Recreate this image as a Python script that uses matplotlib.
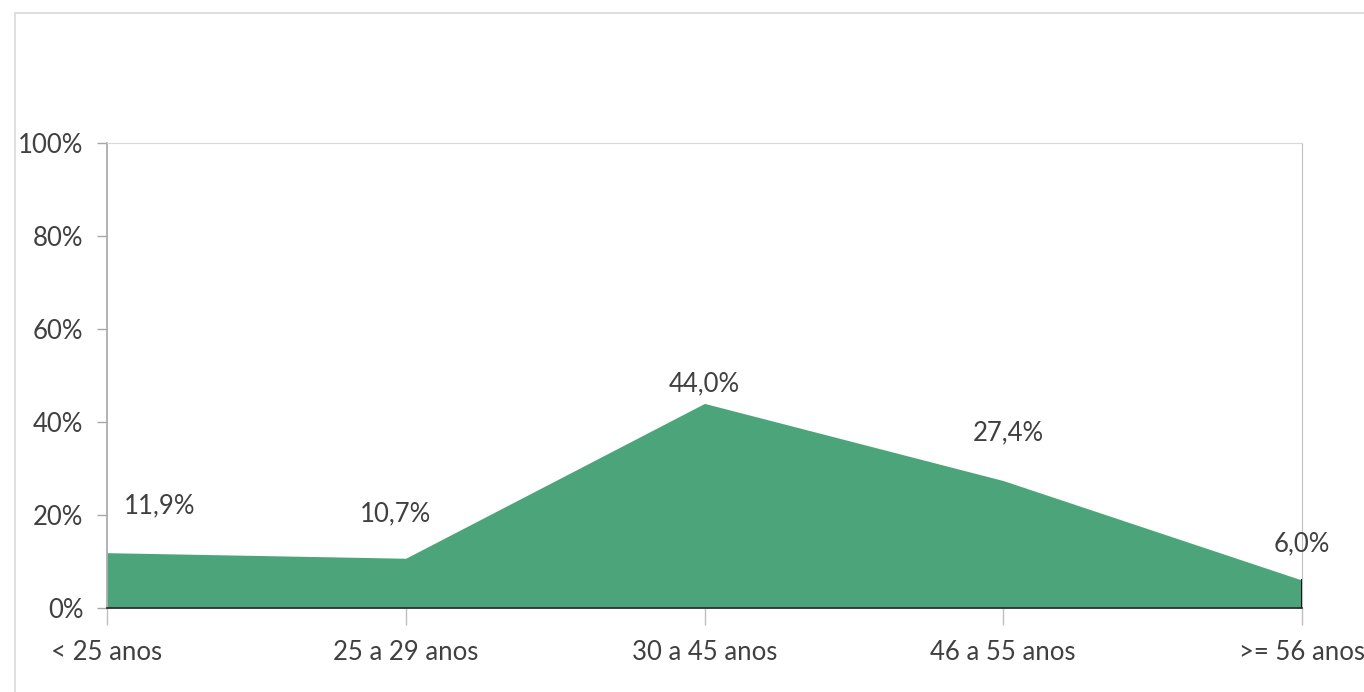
import matplotlib
matplotlib.use("Agg")
import matplotlib.pyplot as plt
from matplotlib.patches import Rectangle
from matplotlib.ticker import PercentFormatter

categories = ["< 25 anos", "25 a 29 anos", "30 a 45 anos", "46 a 55 anos", ">= 56 anos"]
values = [11.9, 10.7, 44.0, 27.4, 6.0]
value_labels = ["11,9%", "10,7%", "44,0%", "27,4%", "6,0%"]
yticks = [0, 20, 40, 60, 80, 100]

# label placement offsets in pixels (dx, dy) relative to each point
label_offsets = [(53, 47), (-10, 44), (0, 20), (5, 48), (0, 36)]

plt.rcParams['font.family'] = ['Lato', 'DejaVu Sans']
W, H = 1364, 692
fig = plt.figure(figsize=(W / 100, H / 100), dpi=100)
fig.patch.set_facecolor("white")

# outer chart frame
fig.add_artist(Rectangle((15 / W, -0.05), 1.1, (H - 13) / H + 0.05,
                         transform=fig.transFigure, fill=False,
                         edgecolor="#d9d9d9", linewidth=1.2))

left, right, top, bottom = 107, 1302, 143, 608
ax = fig.add_axes([left / W, (H - bottom) / H, (right - left) / W, (bottom - top) / H])

x = list(range(len(categories)))
ax.fill_between(x, values, 0, color="#4ca57a", linewidth=0, zorder=2)
ax.plot([x[-1], x[-1]], [0, values[-1]], color="#1a1a1a", linewidth=1.5, zorder=3)

ax.set_xlim(0, len(categories) - 1)
ax.set_ylim(0, 100)
ax.set_yticks(yticks)
ax.yaxis.set_major_formatter(PercentFormatter(decimals=0))
ax.set_xticks(x)
ax.set_xticklabels(categories)

txt = "#404040"
fs = 18.5
ax.tick_params(axis="y", direction="out", length=7, width=1, color="#a6a6a6",
               labelsize=fs, labelcolor=txt, pad=10)
ax.tick_params(axis="x", direction="out", length=12, width=1, color="#bfbfbf",
               labelsize=fs, labelcolor=txt, pad=11)
for lab in ax.get_xticklabels():
    lab.set_clip_on(False)

ax.spines["left"].set_color("#a6a6a6")
ax.spines["left"].set_linewidth(1.2)
ax.spines["top"].set_color("#d9d9d9")
ax.spines["right"].set_color("#bfbfbf")
ax.spines["bottom"].set_color("#262626")
ax.spines["bottom"].set_linewidth(1.2)
ax.spines["bottom"].set_zorder(4)

for xi, v, lab, (dx, dy) in zip(x, values, value_labels, label_offsets):
    ax.annotate(lab, (xi, v), xytext=(dx * 0.72, dy * 0.72), textcoords="offset points",
                ha="center", va="center", fontsize=fs, color=txt, zorder=5)

fig.savefig("out.png", dpi=100)
